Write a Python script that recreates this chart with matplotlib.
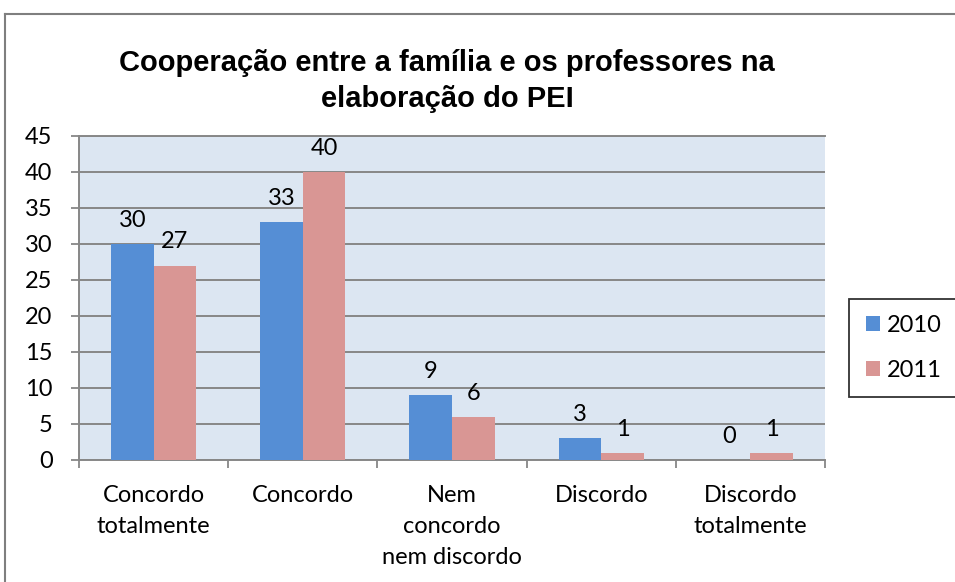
import numpy as np
import matplotlib.pyplot as plt
from matplotlib.lines import Line2D

# dados
categorias = ['Concordo\ntotalmente', 'Concordo', 'Nem\nconcordo\nnem discordo', 'Discordo', 'Discordo\ntotalmente']
anos = ['2010', '2011']
valores_2010 = [30, 33, 9, 3, 0]
valores_2011 = [27, 40, 6, 1, 1]
titulo = 'Cooperação entre a família e os professores na\nelaboração do PEI'

cor_2010 = '#558ED5'
cor_2011 = '#D99694'
cor_grade = '#878787'
fs = 17

plt.rcParams['font.family'] = ['Lato', 'DejaVu Sans']

fig = plt.figure(figsize=(9.55, 5.82), dpi=100)
ax = fig.add_axes([79 / 955, 1 - 460 / 582, (825 - 79) / 955, (460 - 136) / 582])
ax.set_facecolor('#DCE6F2')

x = np.arange(len(categorias))
w = 0.285
b1 = ax.bar(x - w / 2, valores_2010, w, color=cor_2010, label=anos[0], zorder=3)
b2 = ax.bar(x + w / 2, valores_2011, w, color=cor_2011, label=anos[1], zorder=3)

for bars in (b1, b2):
    for rect in bars:
        h = rect.get_height()
        ax.annotate(f'{h:g}', (rect.get_x() + rect.get_width() / 2, h),
                    xytext=(0, 9.5), textcoords='offset points',
                    ha='center', va='bottom', fontsize=fs)

ax.set_xlim(-0.5, len(categorias) - 0.5)
ax.set_ylim(0, 45)
ax.set_yticks(np.arange(0, 46, 5))
ax.tick_params(axis='y', labelsize=fs, length=6, width=1.3, color=cor_grade, pad=13)
ax.yaxis.grid(True, color=cor_grade, lw=1.4, zorder=0)

# ticks do eixo x nas fronteiras das categorias
ax.set_xticks(np.arange(-0.5, len(categorias), 1))
ax.set_xticklabels([])
ax.set_xticks(x, minor=True)
ax.set_xticklabels(categorias, minor=True, fontsize=fs, linespacing=1.6, va='top')
ax.tick_params(axis='x', which='major', length=6, width=1.3, color=cor_grade, direction='out')
ax.tick_params(axis='x', which='minor', length=0, pad=18)

ax.spines['right'].set_visible(False)
for lado in ['left', 'bottom', 'top']:
    ax.spines[lado].set_color(cor_grade)
    ax.spines[lado].set_linewidth(1.4)

fig.text(447 / 955, 1 - 81 / 582, titulo, ha='center', va='center',
         fontsize=21, fontweight='bold', family='Liberation Sans', linespacing=1.4)

leg = fig.legend(handles=[b1, b2], labels=anos, loc='center',
                 bbox_to_anchor=(904 / 955, 1 - 348 / 582), fontsize=fs,
                 frameon=True, fancybox=False, handlelength=0.6, handleheight=0.6,
                 handletextpad=0.3, labelspacing=1.0, borderpad=0.7, borderaxespad=0)
leg.get_frame().set_edgecolor('black')
leg.get_frame().set_linewidth(1.3)

# moldura do gráfico
fig.add_artist(Line2D([5 / 955, 1], [1 - 14 / 582, 1 - 14 / 582], color='#7f7f7f', lw=1.5))
fig.add_artist(Line2D([5 / 955, 5 / 955], [0, 1 - 14 / 582], color='#7f7f7f', lw=1.5))

fig.savefig('out.png', dpi=100)
